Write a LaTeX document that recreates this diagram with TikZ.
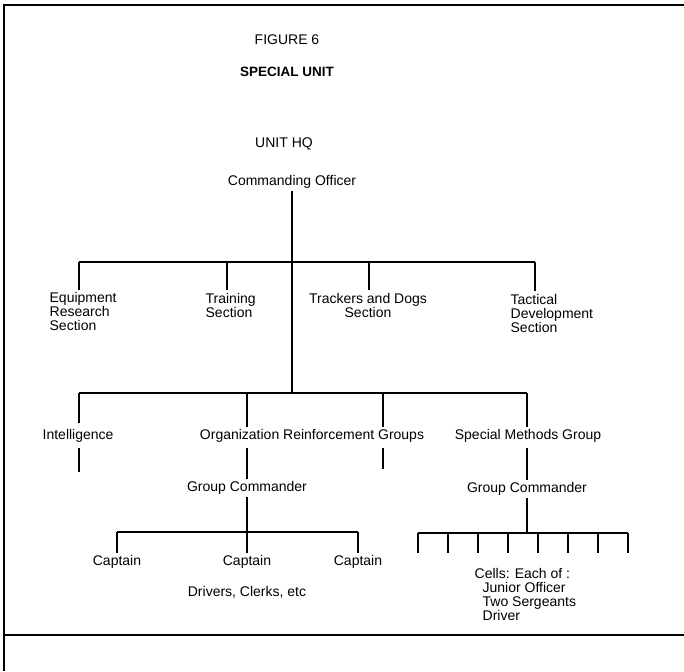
\documentclass[tikz,border=0pt]{standalone}
\usepackage{fontspec}
\setmainfont{Liberation Sans}
\usetikzlibrary{math}
\usetikzlibrary{positioning}
\tikzset{lbl/.style={inner sep=2pt, font=\fontsize{14}{14}\selectfont}}
\tikzset{ttl/.style={inner sep=2pt, font=\fontsize{14}{16}\selectfont}}

\begin{document}
\begin{tikzpicture}[x=1pt,y=-1pt,line width=1.3pt]
	\tikzmath{\ya=262; \yb=393; \yc=532; \yd=533; \cw=30; \ct=20;}
	\useasboundingbox (0,0) rectangle (684,671);
	% frame
	\draw[line width=1.8pt] (684,5) -- (4,5) -- (4,671);
	\draw[line width=1.6pt] (4,635) -- (684,635);
	% headings
	\node[ttl] (fig) at (287,40) {FIGURE 6};
	\node[ttl,font=\fontsize{13.5}{16}\selectfont\bfseries] (spec) at (287,72) {SPECIAL UNIT};
	\node[ttl] (hq) at (284,144) {UNIT HQ};
	\node[lbl] (co) at (292,182) {Commanding Officer};
	% sections
	\node[lbl,align=left,anchor=west] (equip) at (47,311.5) {Equipment\\Research\\Section};
	\node[lbl,align=left,anchor=west] (train) at (203,305) {Training\\Section};
	\node[lbl,align=center] (track) at (368,305) {Trackers and Dogs\\Section};
	\node[lbl,align=left,anchor=west] (tact) at (508,313) {Tactical\\Development\\Section};
	\coordinate (ba1) at (79,\ya); \coordinate (ba2) at (227,\ya);
	\coordinate (ba3) at (369,\ya); \coordinate (ba4) at (535,\ya);
	\draw (ba1) -- (ba4);
	\draw (ba1) -- (ba1 |- equip.north);
	\draw (ba2) -- (ba2 |- train.north);
	\draw (ba3) -- (ba3 |- track.north);
	\draw (ba4) -- (ba4 |- tact.north);
	% groups
	\node[lbl,anchor=west] (intel) at (40,436) {Intelligence};
	\node[lbl] (org) at (312,436) {Organization Reinforcement Groups};
	\node[lbl] (smg) at (528,436) {Special Methods Group};
	\coordinate (jb) at (292,\yb);
	\draw (co.south) -- (jb);
	\coordinate (bb1) at (79,\yb); \coordinate (bb2) at (247,\yb);
	\coordinate (bb3) at (383,\yb); \coordinate (bb4) at (527,\yb);
	\draw (bb1) -- (bb4);
	\draw[shorten >=4pt] (bb1) -- (bb1 |- intel.north);
	\draw (bb2) -- (bb2 |- org.north);
	\draw (bb3) -- (bb3 |- org.north);
	\draw (bb4) -- (bb4 |- smg.north);
	\coordinate (intend) at (79,472); \coordinate (orgend) at (383,469);
	\draw[shorten <=3pt] (intend |- intel.south) -- (intend);
	\draw[shorten <=3pt] (orgend |- org.south) -- (orgend);
	% group commanders
	\node[lbl] (gcl) at (247,488) {Group Commander};
	\node[lbl] (gcr) at (527,489) {Group Commander};
	\draw[shorten <=3pt] (gcl.north |- org.south) -- (gcl.north);
	\draw[shorten <=3pt] (gcr.north |- smg.south) -- (gcr.north);
	% captains
	\node[lbl] (capa) at (117,562) {Captain};
	\node[lbl] (capb) at (247,562) {Captain};
	\node[lbl] (capc) at (358,562) {Captain};
	\node[lbl] (drv) at (247,592) {Drivers, Clerks, etc};
	\coordinate (lb) at (247,\yc);
	\draw (gcl.south) -- (lb);
	\draw (capa.north |- lb) -- (capc.north |- lb);
	\foreach \c in {capa,capb,capc}
		\draw (\c.north |- lb) -- (\c.north);
	% cells
	\coordinate (rb) at (527,\yd);
	\draw (gcr.south) -- (rb);
	\draw (418,\yd) -- (418+7*\cw,\yd);
	\foreach \i in {0,...,7}{
		\coordinate (cell\i) at (418+\i*\cw,\yd);
		\draw (cell\i) -- ++(0,\ct);
	}
	\node[lbl,align=left,anchor=north west] (cells) at (472,566) {Cells: Each of :\\\hspace{8pt}Junior Officer\\\hspace{8pt}Two Sergeants\\\hspace{8pt}Driver};
\end{tikzpicture}
\end{document}
